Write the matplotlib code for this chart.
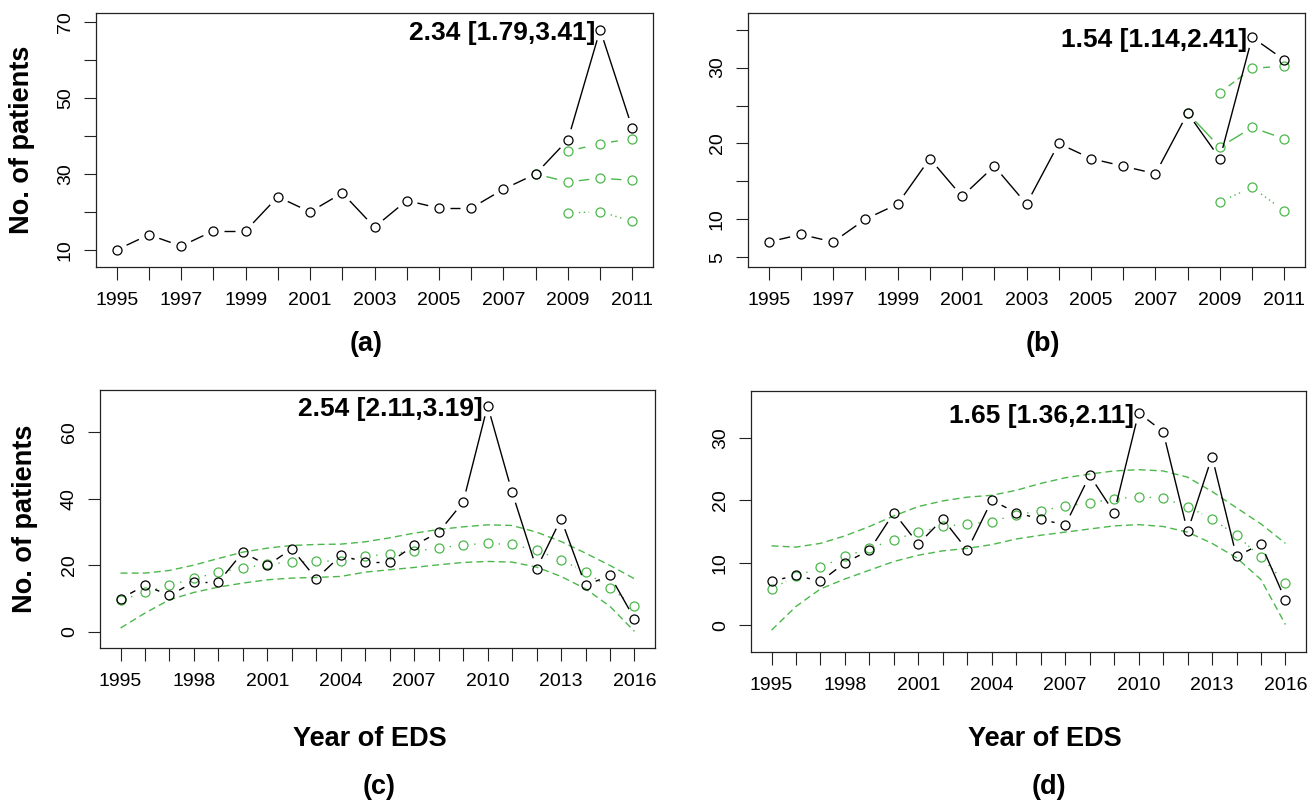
import matplotlib

matplotlib.use("Agg")
import matplotlib.pyplot as plt
import numpy as np
from matplotlib.collections import LineCollection

plt.rcParams["font.family"] = ["Liberation Sans", "DejaVu Sans"]

W, H = 1316, 802
GREEN = "#4cb84c"

# Observed counts per year of EDS
years_full = np.arange(1995, 2017)
patients_all = [10, 14, 11, 15, 15, 24, 20, 25, 16, 23, 21, 21, 26, 30, 39, 68, 42,
                19, 34, 14, 17, 4]
patients_sub = [7, 8, 7, 10, 12, 18, 13, 17, 12, 20, 18, 17, 16, 24, 18, 34, 31,
                15, 27, 11, 13, 4]

# Short series (a), (b): 1995-2011 with forecasts from 2008
years_short = np.arange(1995, 2012)
fc_years_mid = [2008, 2009, 2010, 2011]
fc_years = [2009, 2010, 2011]
a_mid = [30, 27.9, 28.9, 28.3]
a_hi = [36.0, 38.0, 39.3]
a_lo = [19.7, 20.1, 17.5]
b_mid = [24, 19.5, 22.1, 20.6]
b_hi = [26.7, 29.9, 30.2]
b_lo = [12.3, 14.2, 11.1]

# Fitted trend with bands for (c), (d)
c_fit = [9.5, 12.0, 14.0, 16.1, 17.9, 19.2, 20.4, 21.0, 21.2, 21.4, 22.7, 23.5,
         24.3, 25.2, 26.2, 26.6, 26.3, 24.5, 21.7, 18.0, 13.3, 7.7]
c_upper = [17.7, 17.7, 18.5, 20.1, 22.1, 24.0, 25.2, 26.0, 26.3, 26.4, 27.1, 28.3,
           29.7, 30.8, 31.6, 32.2, 32.0, 30.0, 27.2, 23.7, 20.0, 16.0]
c_lower = [1.2, 5.7, 9.7, 11.9, 13.5, 14.7, 15.7, 16.2, 16.4, 16.7, 18.0, 18.7,
           19.4, 20.2, 20.9, 21.2, 21.0, 19.5, 16.7, 13.0, 7.7, 0.2]
d_fit = [5.85, 7.8, 9.3, 11.0, 12.3, 13.7, 14.9, 15.8, 16.2, 16.6, 17.7, 18.3,
         19.1, 19.6, 20.2, 20.6, 20.3, 19.0, 17.0, 14.4, 10.9, 6.8]
d_upper = [12.7, 12.5, 13.1, 14.3, 15.8, 17.5, 19.0, 19.9, 20.5, 20.8, 21.6, 22.7,
           23.6, 24.2, 24.7, 24.9, 24.7, 23.7, 21.4, 18.8, 16.2, 13.1]
d_lower = [-0.8, 3.0, 5.8, 7.4, 8.8, 10.2, 11.2, 11.9, 12.3, 12.9, 13.8, 14.4,
           14.9, 15.4, 15.9, 16.1, 15.8, 14.9, 13.1, 10.8, 7.3, 0.1]

ratio_labels = ["2.34 [1.79,3.41]", "1.54 [1.14,2.41]",
                "2.54 [2.11,3.19]", "1.65 [1.36,2.11]"]
panel_tags = ["(a)", "(b)", "(c)", "(d)"]

DASHED = (0, (5, 3))
DOTTED = (0, (1, 2.5))
GAP = 11  # pixels left blank around each point, like R's type="b"


def add_axes_px(fig, x0, y0, x1, y1):
    return fig.add_axes([x0 / W, 1 - y1 / H, (x1 - x0) / W, (y1 - y0) / H])


def fig_text(fig, x, y, s, **kw):
    fig.text(x / W, 1 - y / H, s, ha="center", va="center", **kw)


def plot_b(ax, x, y, color, ls="-", zorder=3):
    """Points joined by lines that stop short of each point."""
    pts = ax.transData.transform(np.column_stack([x, y]))
    inv = ax.transData.inverted()
    segs = []
    for p, q in zip(pts[:-1], pts[1:]):
        d = q - p
        length = np.hypot(*d)
        if length <= 2 * GAP:
            continue
        u = d / length
        segs.append(inv.transform(np.array([p + u * GAP, q - u * GAP])))
    ax.add_collection(LineCollection(segs, colors=color, linewidths=1.0,
                                     linestyles=[ls], zorder=zorder))
    ax.plot(x, y, linestyle="none", marker="o", markersize=6.5,
            markerfacecolor="none", markeredgecolor=color,
            markeredgewidth=0.9, zorder=zorder + 0.5)


def style_axes(ax, xlim, ylim, yticks, ylabels, xticks, xlabels):
    ax.set_xlim(*xlim)
    ax.set_ylim(*ylim)
    ax.set_xticks(xticks)
    ax.set_xticklabels(xlabels)
    ax.set_yticks(yticks)
    ax.set_yticklabels(ylabels, rotation=90, va="center")
    ax.tick_params(length=9, width=0.8, labelsize=14, color="#222222")
    ax.tick_params(axis="x", pad=9)
    ax.tick_params(axis="y", pad=7)
    for sp in ax.spines.values():
        sp.set_linewidth(0.9)
        sp.set_color("#222222")


def r_range(lo, hi):
    ext = 0.04 * (hi - lo)
    return lo - ext, hi + ext


def main():
    fig = plt.figure(figsize=(W / 100, H / 100), dpi=100)

    boxes = [(96, 13, 653, 267), (748, 13, 1305, 267),
             (100, 390, 655, 648), (751, 391, 1306, 652)]
    axes = [add_axes_px(fig, *b) for b in boxes]

    short_labels = [str(y) if (y - 1995) % 2 == 0 else "" for y in years_short]
    full_labels = [str(y) if (y - 1995) % 3 == 0 else "" for y in years_full]

    style_axes(axes[0], r_range(1995, 2011), (5.5, 72.4), range(10, 71, 10),
               ["10", "", "30", "", "50", "", "70"], years_short, short_labels)
    style_axes(axes[1], r_range(1995, 2011), (3.7, 37.2), range(5, 36, 5),
               ["5", "10", "", "20", "", "30", ""], years_short, short_labels)
    style_axes(axes[2], r_range(1995, 2016), (-4.8, 72.7), range(0, 61, 20),
               ["0", "20", "40", "60"], years_full, full_labels)
    style_axes(axes[3], r_range(1995, 2016), (-4.3, 37.5), range(0, 31, 10),
               ["0", "10", "20", "30"], years_full, full_labels)

    # (a) and (b): observed counts with forecast and bounds
    for ax, counts, mid, hi, lo in [(axes[0], patients_all, a_mid, a_hi, a_lo),
                                    (axes[1], patients_sub, b_mid, b_hi, b_lo)]:
        plot_b(ax, fc_years_mid, mid, GREEN, "-", zorder=2)
        plot_b(ax, fc_years, hi, GREEN, DASHED, zorder=2)
        plot_b(ax, fc_years, lo, GREEN, DOTTED, zorder=2)
        plot_b(ax, years_short, counts[:len(years_short)], "black", "-", zorder=4)

    # (c) and (d): full series with fitted trend and bands
    for ax, counts, fit, up, lo in [(axes[2], patients_all, c_fit, c_upper, c_lower),
                                    (axes[3], patients_sub, d_fit, d_upper, d_lower)]:
        ax.plot(years_full, up, color=GREEN, linestyle=DASHED, linewidth=1.0, zorder=2)
        ax.plot(years_full, lo, color=GREEN, linestyle=DASHED, linewidth=1.0, zorder=2)
        plot_b(ax, years_full, fit, GREEN, DOTTED, zorder=2)
        plot_b(ax, years_full, counts, "black", "-", zorder=4)

    # peak annotations next to the 2010 point
    for ax, label, counts in zip(axes, ratio_labels,
                                 [patients_all, patients_sub, patients_all, patients_sub]):
        peak = counts[2010 - 1995]
        ax.annotate(label, xy=(2010, peak), xytext=(-5, -3),
                    textcoords="offset pixels", ha="right", va="center",
                    fontsize=19, fontweight="bold", zorder=6)

    fig_text(fig, 22, 140, "No. of patients", fontsize=19.5, fontweight="bold", rotation=90)
    fig_text(fig, 25, 519, "No. of patients", fontsize=19.5, fontweight="bold", rotation=90)

    fig_text(fig, 370, 739, "Year of EDS", fontsize=19.5, fontweight="bold")
    fig_text(fig, 1045, 739, "Year of EDS", fontsize=19.5, fontweight="bold")

    for (x, y), tag in zip([(366, 344), (1043, 344), (379, 787), (1049, 787)], panel_tags):
        fig_text(fig, x, y, tag, fontsize=19.5, fontweight="bold")

    fig.savefig("out.png", dpi=100)


if __name__ == "__main__":
    main()
